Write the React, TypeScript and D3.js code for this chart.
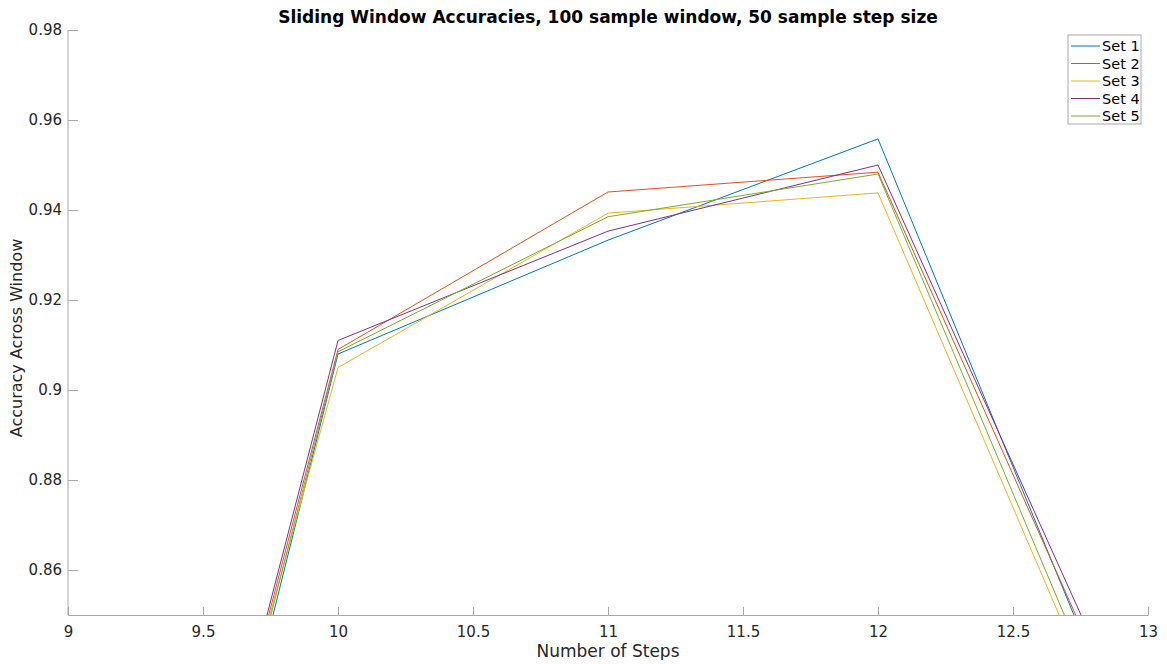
import React, { useEffect, useRef } from 'react';
import * as d3 from 'd3';

const steps = [9, 10, 11, 12, 13];
const set1 = [0.667, 0.908, 0.9333, 0.9558, 0.81];
const set2 = [0.679, 0.909, 0.944, 0.9484, 0.814];
const set3 = [0.687, 0.905, 0.9393, 0.9438, 0.804];
const set4 = [0.679, 0.911, 0.9353, 0.95, 0.817];
const set5 = [0.673, 0.9085, 0.9385, 0.948, 0.806];
const seriesNames = ['Set 1', 'Set 2', 'Set 3', 'Set 4', 'Set 5'];
const colors = ['#0072BD', '#D95319', '#EDB120', '#7E2F8E', '#77AC30'];
const xTicks = [9, 9.5, 10, 10.5, 11, 11.5, 12, 12.5, 13];
const yTicks = [0.86, 0.88, 0.9, 0.92, 0.94, 0.96, 0.98];

const App = () => {
  const ref = useRef<SVGSVGElement>(null);

  useEffect(() => {
    const svg = d3.select(ref.current);
    svg.selectAll('*').remove();
    const width = 1167;
    const height = 664;
    const left = 68, right = 1148, top = 30, bottom = 615;
    const font = 'DejaVu Sans, sans-serif';
    const axisColor = '#a8a8a8';
    const textColor = '#262626';

    const x = d3.scaleLinear().domain([9, 13]).range([left, right]);
    const y = d3.scaleLinear().domain([0.85, 0.98]).range([bottom, top]);

    svg.attr('width', width).attr('height', height);

    svg.append('defs').append('clipPath').attr('id', 'plotclip')
      .append('rect')
      .attr('x', left).attr('y', top)
      .attr('width', right - left).attr('height', bottom - top);

    const all = [set1, set2, set3, set4, set5];
    const line = d3.line<number>()
      .x((d, i) => x(steps[i]))
      .y((d) => y(d));

    const g = svg.append('g').attr('clip-path', 'url(#plotclip)');
    all.forEach((s, i) => {
      g.append('path')
        .attr('d', line(s))
        .attr('fill', 'none')
        .attr('stroke', colors[i])
        .attr('stroke-width', 1);
    });

    // axes, ticks point inward like matlab
    const xAxis = d3.axisBottom(x).tickValues(xTicks).tickSize(-8).tickPadding(11)
      .tickFormat((d) => String(d));
    const yAxis = d3.axisLeft(y).tickValues(yTicks).tickSize(-10).tickPadding(6)
      .tickFormat((d) => String(+d));

    const gx = svg.append('g').attr('transform', `translate(0,${bottom})`).call(xAxis);
    const gy = svg.append('g').attr('transform', `translate(${left},0)`).call(yAxis);
    [gx, gy].forEach((ax) => {
      ax.select('.domain').attr('stroke', axisColor);
      ax.selectAll('.tick line').attr('stroke', axisColor);
      ax.selectAll('.tick text')
        .attr('fill', textColor)
        .style('font-family', font)
        .style('font-size', '15px');
    });
    gy.select('.domain').attr('d', `M0,${bottom}V${top}`);

    // title and labels
    svg.append('text')
      .attr('x', (left + right) / 2).attr('y', 23)
      .attr('text-anchor', 'middle')
      .style('font-family', font).style('font-size', '17px').style('font-weight', 'bold')
      .attr('fill', '#000')
      .text('Sliding Window Accuracies, 100 sample window, 50 sample step size');

    svg.append('text')
      .attr('x', (left + right) / 2).attr('y', 657)
      .attr('text-anchor', 'middle')
      .style('font-family', font).style('font-size', '17px')
      .attr('fill', textColor)
      .text('Number of Steps');

    svg.append('text')
      .attr('transform', `translate(22,338) rotate(-90)`)
      .attr('text-anchor', 'middle')
      .style('font-family', font).style('font-size', '16px')
      .attr('fill', textColor)
      .text('Accuracy Across Window');

    // legend
    const lg = svg.append('g').attr('transform', 'translate(1068,35)');
    lg.append('rect')
      .attr('width', 73).attr('height', 89)
      .attr('fill', '#fff').attr('stroke', axisColor);
    seriesNames.forEach((name, i) => {
      const yy = 11 + i * 17.5;
      lg.append('line')
        .attr('x1', 3).attr('x2', 32).attr('y1', yy).attr('y2', yy)
        .attr('stroke', colors[i]).attr('stroke-width', 1);
      lg.append('text')
        .attr('x', 34).attr('y', yy + 5)
        .style('font-family', font).style('font-size', '14.5px')
        .attr('fill', '#000')
        .text(name);
    });
  }, []);

  return (
    <div style={{ margin: -8 }}>
      <svg ref={ref}></svg>
    </div>
  );
};

export default App;
